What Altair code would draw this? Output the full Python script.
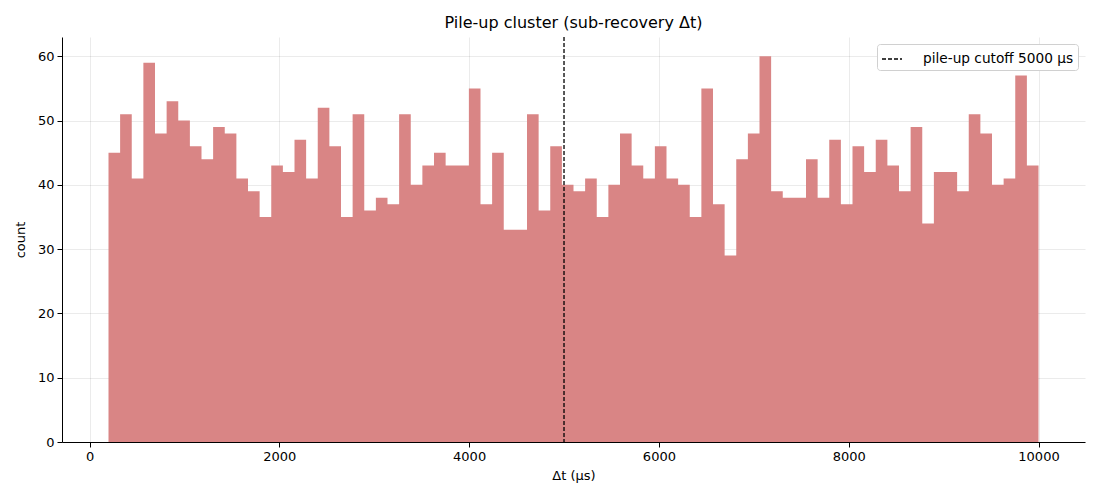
import altair as alt
import pandas as pd

# Histogram data (80 bins, 200..10000 µs)
bin_start0 = 200.0
bin_width = 122.5
counts = [45, 51, 41, 59, 48, 53, 50, 46, 44, 49,
          48, 41, 39, 35, 43, 42, 47, 41, 52, 46,
          35, 51, 36, 38, 37, 51, 40, 43, 45, 43,
          43, 55, 37, 45, 33, 33, 51, 36, 46, 40,
          39, 41, 35, 40, 48, 43, 41, 46, 41, 40,
          35, 55, 37, 29, 44, 48, 60, 39, 38, 38,
          44, 38, 47, 37, 46, 42, 47, 43, 39, 49,
          34, 42, 42, 39, 51, 48, 40, 41, 57, 43]
cutoff = [5000]
cutoff_label = ["pile-up cutoff 5000 µs"]
x_ticks = [0, 2000, 4000, 6000, 8000, 10000]
y_ticks = [0, 10, 20, 30, 40, 50, 60]

# Step outline of the histogram: each bin edge carries the count of the bin
# that starts there; the final edge repeats the last bin's count.
edges = [bin_start0 + i * bin_width for i in range(len(counts) + 1)]
df = pd.DataFrame({"edge": edges, "count": counts + [counts[-1]]})
df_cut = pd.DataFrame({"x": cutoff, "label": cutoff_label})

FONT = "DejaVu Sans"
BAR = "#d98585"
xscale = alt.Scale(domain=[-290, 10490], nice=False, zero=False)
yscale = alt.Scale(domain=[0, 63], nice=False)

bars = alt.Chart(df).mark_area(color=BAR, interpolate="step-after").encode(
    x=alt.X("edge:Q", scale=xscale,
            axis=alt.Axis(title="Δt (µs)", values=x_ticks, format="d")),
    y=alt.Y("count:Q", scale=yscale,
            axis=alt.Axis(title="count", values=y_ticks)),
    y2=alt.datum(0),
)

rule = alt.Chart(df_cut).mark_rule(strokeDash=[4, 2], strokeWidth=1.3).encode(
    x=alt.X("x:Q", scale=xscale),
    color=alt.Color("label:N", scale=alt.Scale(range=["black"]),
                    legend=alt.Legend(
                        title=None, orient="none", legendX=815, legendY=7,
                        symbolType="stroke", symbolSize=400,
                        symbolDash=[4, 2], symbolStrokeWidth=1.3,
                        symbolStrokeColor="black",
                        labelFont=FONT, labelFontSize=13.7, labelColor="black",
                        labelOffset=20,
                        fillColor="white", strokeColor="#d0d0d0",
                        cornerRadius=3, padding=4)),
)

chart = alt.layer(bars, rule).properties(
    width=1023, height=405,
    title=alt.TitleParams("Pile-up cluster (sub-recovery Δt)", font=FONT,
                          fontSize=16, fontWeight="normal", color="black",
                          offset=5),
    autosize=alt.AutoSizeParams(type="none"),
    padding={"left": 54, "top": 29, "right": 4, "bottom": 48},
).configure_view(stroke=None).configure_axis(
    labelFont=FONT, labelFontSize=13, labelColor="black",
    titleFont=FONT, titleFontSize=13, titleFontWeight="normal", titleColor="black",
    domainColor="black", domainWidth=1, tickColor="black", tickSize=5,
    gridColor="black", gridOpacity=0.1, gridWidth=0.8, labelPadding=3,
    zindex=1,
).configure_axisY(titlePadding=10).configure_axisX(titlePadding=6)

chart.save("out.html", embed_options={"renderer": "svg", "actions": False})
